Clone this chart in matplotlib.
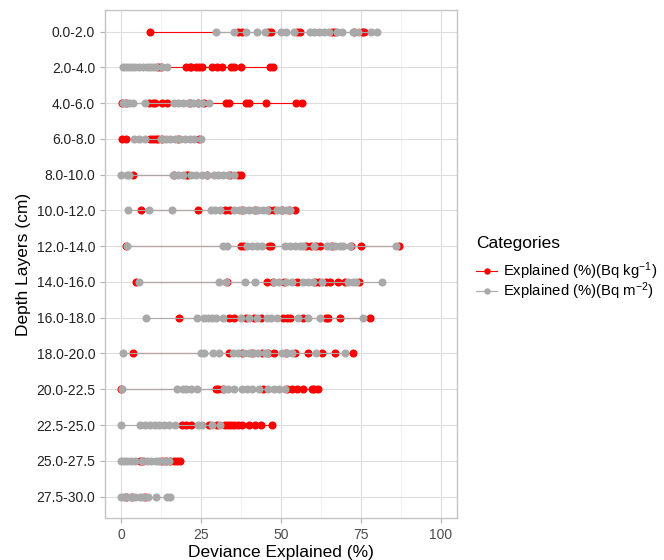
import numpy as np
import matplotlib.pyplot as plt

plt.rcParams['font.family'] = ['Liberation Sans', 'DejaVu Sans']
plt.rcParams['mathtext.fontset'] = 'custom'
plt.rcParams['mathtext.rm'] = 'Liberation Sans'
plt.rcParams['mathtext.it'] = 'Liberation Sans:italic'

depths = ['0.0-2.0', '2.0-4.0', '4.0-6.0', '6.0-8.0', '8.0-10.0', '10.0-12.0',
          '12.0-14.0', '14.0-16.0', '16.0-18.0', '18.0-20.0', '20.0-22.5',
          '22.5-25.0', '25.0-27.5', '27.5-30.0']

# Explained (%) per depth layer, Bq kg-1
kg_vals = [
    [9, 36.5, 38, 46, 47, 55, 56, 66, 67, 73, 75.5, 76],
    [11.5, 12.5, 20.5, 21.5, 22, 23.5, 24.5, 25.5, 28.5, 30, 31.5, 34.5, 35.5, 37.5, 46.5, 47.5],
    [0.3, 1.5, 8.8, 10, 10.6, 12.8, 14.5, 21.5, 24, 26, 33, 33.8, 39, 40, 45.2, 54.8, 56.5],
    [0.3, 1.5, 9, 10, 11, 11.7, 13, 18, 24.5],
    [3.9, 16.5, 20.4, 21, 27, 34, 36.5, 37.5],
    [6.2, 24, 32.5, 34, 38, 42, 46.2, 48, 50.5, 52.5, 54.5],
    [1.5, 37.5, 38.5, 46.2, 46.8, 58, 59.5, 61, 62.2, 66, 72, 75.1, 87],
    [4.8, 33.3, 45.7, 47.5, 51, 55, 60.7, 62, 64, 65.3, 68, 70, 74.3],
    [18.2, 33.8, 35.4, 39, 41.5, 43.7, 50.8, 52, 52.9, 57, 64, 64.7, 68.4, 77.9],
    [3.9, 33.8, 38, 41, 44, 46, 48, 51.5, 54.5, 58.5, 62.8, 66.9, 72.5],
    [0, 29.7, 30.5, 31.8, 44.4, 51.9, 53.5, 55, 57, 59.7, 60.5, 61.6],
    [19, 20.5, 22, 27.5, 30, 32.5, 33.5, 34.5, 35.5, 36.5, 38, 40, 42, 43.7, 47.3],
    [6, 7, 12.7, 14, 15.5, 16.5, 17.5, 18.4],
    [1.5, 3.5, 7.5],
]

# Explained (%) per depth layer, Bq m-2
m2_vals = [
    [29.7, 35.4, 39.2, 42.4, 45, 50, 51.5, 54, 59, 60.5, 62, 63.5, 65, 67.5, 69, 72.5, 74, 78.2, 80.1],
    [0.5, 1.5, 2.5, 3.5, 4.5, 5.5, 7, 8, 9, 10, 11, 13, 14.5],
    [0.6, 1.5, 2.5, 3.7, 7.5, 16.5, 18, 19.5, 21, 22.5, 24, 25.5, 27.6],
    [4, 5.5, 7.5, 12.5, 14, 15.5, 17, 18.5, 20, 21.5, 23, 25],
    [0, 2, 2.5, 16.3, 18, 19.4, 22, 23.5, 25.5, 27, 29, 30.5, 32, 33.5, 35.4],
    [2.2, 8.8, 16.1, 28.2, 29.5, 31, 35.4, 37, 38.5, 40, 41.5, 43, 44.5, 45.7, 48.8, 50, 51.5, 53],
    [1.8, 31.8, 33.3, 39.5, 41, 42.5, 44.2, 51.4, 53, 54.5, 56, 57, 60.5, 64.3, 65.5, 67, 68.5, 69.4, 71.5, 86],
    [5.7, 30.8, 32.7, 38.8, 41.8, 48, 49.5, 51.5, 53.5, 57, 58.5, 60, 63, 71, 72.5, 73.6, 81.6],
    [7.7, 23.8, 26, 27.2, 28.5, 29.7, 31.8, 37.5, 40, 42.5, 45.7, 47, 48.8, 55.4, 58.5, 62.2, 75.6],
    [0.8, 25, 26, 28.7, 30.8, 35, 36.5, 38.5, 40, 41.5, 43, 45, 45.7, 50.4, 52, 53.5, 61, 70],
    [0.3, 17.6, 19.4, 20.5, 22, 23.7, 32.2, 33.5, 35.4, 38, 39.5, 41, 43.1, 46.1, 48, 49.5, 51.4],
    [0, 6, 7.5, 9, 10.5, 12, 13.5, 15, 17, 24, 25.5, 28.5, 31],
    [0, 1, 2, 3, 4.5, 6.5, 8, 9.5, 11, 12, 13.5, 15],
    [0, 1, 2, 3, 4.5, 6, 7, 8.5, 11.1, 14.5, 15.3],
]

labels = [r'Explained (%)(Bq kg$^{-1}$)', r'Explained (%)(Bq m$^{-2}$)']
colors = ['#FF0000', '#A9A9A9']

fig = plt.figure(figsize=(6.64, 5.6), dpi=100)
ax = fig.add_axes([0.158, 0.075, 0.530, 0.907])

n = len(depths)
ypos = np.arange(n)[::-1]  # first layer at the top

for series, color, label in zip([kg_vals, m2_vals], colors, labels):
    for i, vals in enumerate(series):
        v = np.sort(vals)
        ax.plot(v, np.full(len(v), ypos[i]), color=color, lw=0.8,
                marker='o', ms=4.8, mec=color, mfc=color,
                label=label if i == 0 else None)

ax.set_xlim(-5, 105)
ax.set_ylim(-0.6, n - 0.4)
ax.set_xticks([0, 25, 50, 75, 100])
ax.set_xticks([12.5, 37.5, 62.5, 87.5], minor=True)
ax.set_yticks(ypos)
ax.set_yticklabels(depths)

ax.grid(True, which='major', color='#DEDEDE', lw=0.8)
ax.grid(True, which='minor', axis='x', color='#EBEBEB', lw=0.5)
ax.set_axisbelow(True)
for s in ax.spines.values():
    s.set_color('#C4C4C4')
    s.set_linewidth(1.0)
ax.tick_params(which='major', color='#B3B3B3', length=3.5)
ax.tick_params(which='minor', length=0)
ax.tick_params(axis='x', labelsize=10, labelcolor='#4D4D4D')
ax.tick_params(axis='y', labelsize=10, labelcolor='#222222')

ax.set_xlabel('Deviance Explained (%)', fontsize=12.5, labelpad=2)
ax.set_ylabel('Depth Layers (cm)', fontsize=12.5, labelpad=4)

leg = ax.legend(title='Categories', loc='center left', bbox_to_anchor=(1.033, 0.49),
                frameon=False, fontsize=10.7, title_fontsize=12.5, borderpad=0,
                handlelength=1.45, handletextpad=0.4, labelspacing=-0.12,
                markerscale=0.75, alignment='left')
leg._legend_box.sep = 7  # extra gap under the legend title

fig.savefig('out.png', dpi=100)
